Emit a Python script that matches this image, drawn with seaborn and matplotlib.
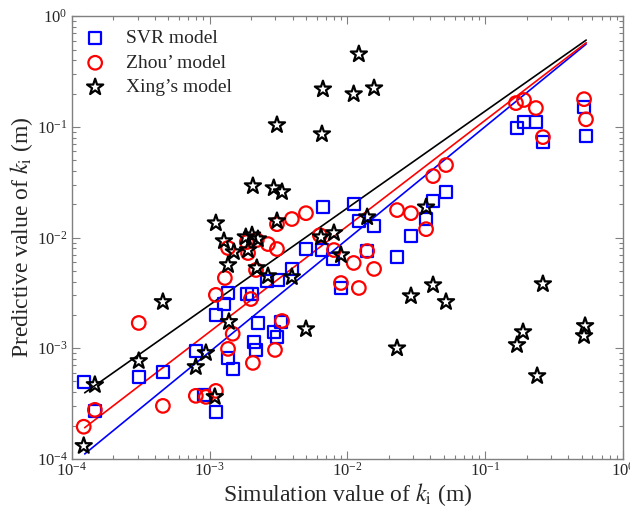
import numpy as np
import pandas as pd
import matplotlib
matplotlib.use('Agg')
import matplotlib.pyplot as plt
import seaborn as sns
from matplotlib.ticker import LogLocator, NullFormatter

sns.set_style('ticks')
# 衬线字体（类似 Times）
plt.rcParams['font.family'] = ['Liberation Serif', 'DejaVu Serif']
plt.rcParams['mathtext.fontset'] = 'stix'

# SVR 模型
svr_x = [1.22e-4, 1.47e-4, 3.06e-4, 4.58e-4, 7.94e-4, 9.08e-4, 1.11e-3, 1.11e-3, 1.27e-3, 1.36e-3,
         1.86e-3, 2.03e-3, 2.24e-3, 2.10e-3, 2.17e-3, 1.36e-3, 1.47e-3, 2.92e-3, 3.08e-3, 3.29e-3,
         2.61e-3, 3.13e-3, 3.95e-3, 5.0e-3, 6.53e-3, 6.64e-3, 7.85e-3, 8.97e-3, 1.11e-2, 1.21e-2,
         1.56e-2, 1.39e-2, 2.29e-2, 2.89e-2, 3.72e-2, 4.18e-2, 5.19e-2, 0.170, 0.191, 0.233,
         0.262, 0.521, 0.538]
svr_y = [4.96e-4, 2.71e-4, 5.50e-4, 6.10e-4, 9.44e-4, 3.78e-4, 2.66e-4, 2.0e-3, 2.51e-3, 3.15e-3,
         3.09e-3, 3.09e-3, 1.69e-3, 1.14e-3, 9.64e-4, 8.16e-4, 6.50e-4, 1.40e-3, 1.26e-3, 1.73e-3,
         4.05e-3, 4.13e-3, 5.20e-3, 7.87e-3, 7.71e-3, 1.88e-2, 6.40e-3, 3.50e-3, 2.0e-2, 1.41e-2,
         1.27e-2, 7.55e-3, 6.67e-3, 1.03e-2, 1.47e-2, 2.14e-2, 2.58e-2, 0.0975, 0.110, 0.110,
         0.0728, 0.151, 0.0826]

# Zhou 模型
zhou_x = [1.22e-4, 1.47e-4, 3.06e-4, 4.58e-4, 7.94e-4, 9.4e-4, 1.11e-3, 1.11e-3, 1.29e-3, 1.36e-3,
          1.86e-3, 1.90e-3, 2.20e-3, 2.65e-3, 3.08e-3, 3.08e-3, 3.95e-3, 5.0e-3, 2.17e-3, 1.99e-3,
          1.47e-3, 1.36e-3, 2.06e-3, 2.98e-3, 3.35e-3, 6.31e-3, 7.98e-3, 8.97e-3, 1.11e-2, 1.21e-2,
          1.39e-2, 1.56e-2, 2.29e-2, 2.89e-2, 3.72e-2, 4.18e-2, 5.19e-2, 0.167, 0.191, 0.233,
          0.262, 0.521, 0.538]
zhou_y = [1.95e-4, 2.77e-4, 1.69e-3, 3.01e-4, 3.71e-4, 3.63e-4, 4.11e-4, 3.03e-3, 4.31e-3, 8.04e-3,
          9.1e-3, 7.24e-3, 9.49e-3, 8.73e-3, 7.87e-3, 1.32e-2, 1.47e-2, 1.66e-2, 5.09e-3, 2.78e-3,
          1.35e-3, 9.85e-4, 7.36e-4, 9.64e-4, 1.76e-3, 1.05e-2, 7.71e-3, 3.88e-3, 5.89e-3, 3.50e-3,
          7.55e-3, 5.20e-3, 1.77e-2, 1.66e-2, 1.19e-2, 3.59e-2, 4.52e-2, 0.164, 0.175, 0.148,
          0.0808, 0.178, 0.117]

# Xing 模型
xing_x = [1.21e-2, 6.64e-3, 1.11e-2, 1.56e-2, 3.08e-3, 6.53e-3, 2.06e-3, 2.92e-3, 3.35e-3, 1.11e-3,
          3.08e-3, 1.27e-3, 1.83e-3, 2.03e-3, 2.24e-3, 1.90e-3, 1.50e-3, 1.36e-3, 2.20e-3, 2.65e-3,
          3.95e-3, 6.43e-3, 7.98e-3, 8.97e-3, 1.39e-2, 3.72e-2, 4.58e-4, 1.38e-3, 5.0e-3, 3.06e-4,
          7.94e-4, 9.4e-4, 1.09e-3, 1.47e-4, 1.22e-4, 4.18e-2, 2.89e-2, 5.19e-2, 2.29e-2, 0.262,
          0.188, 0.170, 0.238, 0.530, 0.521]
xing_y = [0.454, 0.219, 0.198, 0.224, 0.104, 0.0861, 0.0292, 0.0280, 0.0258, 0.0135,
          0.0141, 9.30e-3, 1.01e-2, 1.05e-2, 9.69e-3, 7.71e-3, 7.40e-3, 5.65e-3, 5.31e-3, 4.49e-3,
          4.40e-3, 1.01e-2, 1.10e-2, 6.95e-3, 1.53e-2, 1.88e-2, 2.62e-3, 1.73e-3, 1.49e-3, 7.67e-4,
          6.77e-4, 9.06e-4, 3.63e-4, 4.66e-4, 1.31e-4, 3.72e-3, 2.96e-3, 2.62e-3, 1.0e-3, 3.80e-3,
          1.40e-3, 1.07e-3, 5.61e-4, 1.59e-3, 1.29e-3]

# 拟合线 log10(y) = a*log10(x) + b  (SVR, Zhou, Xing)
fit_slope = [1.018, 0.956, 0.876]
fit_icpt = [0.021, 0.016, 0.019]
fit_xrange = [1.24e-4, 0.54]

labels = ['SVR model', 'Zhou\u2019 model', 'Xing\u2019s model']
colors = ['#0000ff', '#ff0000', '#000000']
markers = ['s', 'o', '*']
sizes = [75, 95, 150]

fig = plt.figure(figsize=(6.3, 5.07), dpi=100)
ax = fig.add_axes([0.114, 0.095, 0.875, 0.873])

x_fit = np.logspace(np.log10(fit_xrange[0]), np.log10(fit_xrange[1]), 50)
for a, b, c in zip(fit_slope, fit_icpt, colors):
    sns.lineplot(x=x_fit, y=10 ** b * x_fit ** a, color=c, linewidth=1.2, ax=ax, zorder=1)

series = [(svr_x, svr_y), (zhou_x, zhou_y), (xing_x, xing_y)]
for (xs, ys), lab, c, m, s in zip(series, labels, colors, markers, sizes):
    df = pd.DataFrame({'x': xs, 'y': ys})
    sns.scatterplot(data=df, x='x', y='y', marker=m, s=s, facecolor='none',
                    edgecolor=c, linewidth=1.6, label=lab, ax=ax, zorder=3)

ax.set_xscale('log')
ax.set_yscale('log')
ax.set_xlim(1e-4, 1)
ax.set_ylim(1e-4, 1)
ax.xaxis.set_major_locator(LogLocator(base=10, numticks=10))
ax.yaxis.set_major_locator(LogLocator(base=10, numticks=10))
ax.xaxis.set_minor_locator(LogLocator(base=10, subs=np.arange(2, 10), numticks=50))
ax.yaxis.set_minor_locator(LogLocator(base=10, subs=np.arange(2, 10), numticks=50))
ax.xaxis.set_minor_formatter(NullFormatter())
ax.yaxis.set_minor_formatter(NullFormatter())

ax.tick_params(which='both', direction='in', top=True, right=True, color='#808080',
               labelsize=12)
ax.tick_params(axis='x', pad=2)
ax.tick_params(axis='y', pad=3)
ax.tick_params(which='major', length=6, width=0.8)
ax.tick_params(which='minor', length=3, width=0.8)
for sp in ax.spines.values():
    sp.set_color('#808080')
    sp.set_linewidth(1.0)

ax.set_xlabel('Simulation value of $k_\\mathrm{i}$ (m)', fontsize=17, labelpad=1)
ax.set_ylabel('Predictive value of $k_\\mathrm{i}$ (m)', fontsize=17, labelpad=1)

ax.legend(loc='upper left', frameon=False, fontsize=14, handlelength=1.0,
          handletextpad=1.1, borderaxespad=0.3, labelspacing=0.35)

plt.savefig('out.png', dpi=100)
